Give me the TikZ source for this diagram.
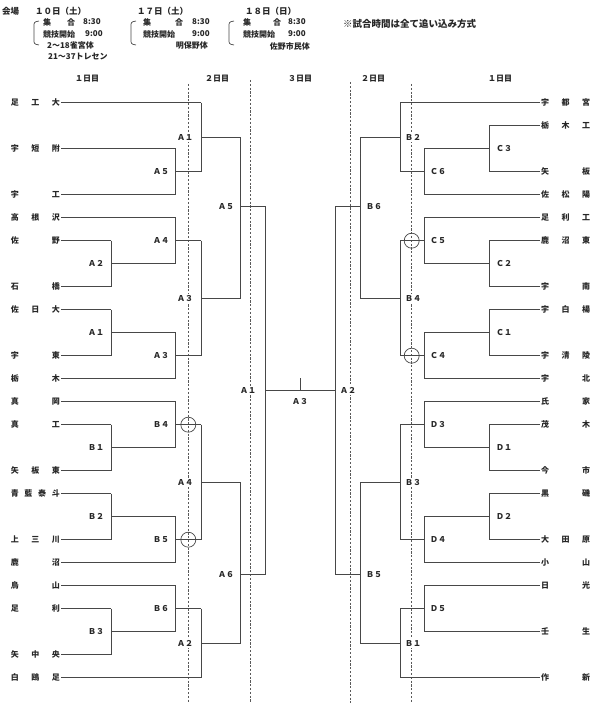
\documentclass[tikz,border=0pt]{standalone}
\usepackage{fontspec}
\setmainfont{Noto Sans CJK JP}
\newcommand\tname[1]{\makebox[49pt][s]{#1}}
\newcommand\bk[5]{\draw[ln] (#1,{rw(#2)}) -- (#1,{rw(#3)}); \draw[ln] (#1,{rw(#4)}) -- (#5,{rw(#4)});}
\begin{document}
\begin{tikzpicture}[x=1pt,y=-1pt,
  declare function={rw(\r)=102.7+23*\r;},
  ln/.style={draw=black!72,line width=0.8pt},
  dl/.style={draw=black!65,line width=0.7pt,dash pattern=on 2.2pt off 1.6pt},
  tm/.style={inner sep=0pt,font=\fontsize{8}{9}\selectfont\bfseries,text=black!85},
  lab/.style={fill=white,inner sep=1.5pt,font=\fontsize{8}{9}\selectfont\bfseries,text=black!85},
  hd/.style={inner sep=0pt,anchor=west,font=\fontsize{8}{9}\selectfont\bfseries,text=black!85},
]
\useasboundingbox (0,0) rectangle (600,703);
% day separators
\draw[dl] (188.3,84) -- (188.3,703);
\draw[dl] (250.7,80) -- (250.7,703);
\draw[dl] (350,82) -- (350,703);
\draw[dl] (411.7,84) -- (411.7,703);
% header
\node[hd,font=\fontsize{8.5}{9}\selectfont\bfseries] (h0) at (2,11) {会場};
\node[hd,font=\fontsize{8.5}{9}\selectfont\bfseries] (h1) at (35,11) {１０日（土）};
\node[hd,font=\fontsize{8.5}{9}\selectfont\bfseries] (h2) at (137,11) {１７日（土）};
\node[hd,font=\fontsize{8.5}{9}\selectfont\bfseries] (h3) at (245,11) {１８日（日）};
\foreach \a/\b/\c/\d [count=\i] in {43/67/83/85, 143/175/192/192, 243/273/288/288}{
  \node[hd] (ga\i) at (\a,22) {集};
  \node[hd] (gb\i) at (\b,22) {合};
  \node[hd] (gc\i) at (\c,22) {8:30};
  \node[hd] (gd\i) at (\a,34) {競技開始};
  \node[hd] (ge\i) at (\d,34) {9:00};
}
\foreach \x [count=\i] in {37,134,232}{
  \draw[ln,line width=0.7pt] (\x+2,21) .. controls (\x-3,22) .. (\x-3,27) -- (\x-3,39) .. controls (\x-3,44) .. (\x+2,45);
}
\node[hd] (v1) at (47,45) {2～18雀宮体};
\node[hd] (v2) at (48,57) {21～37トレセン};
\node[hd,anchor=east] (v3) at (208,46) {明保野体};
\node[hd,anchor=east] (v4) at (310,46) {佐野市民体};
\node[hd,font=\fontsize{9.5}{10}\selectfont\bfseries] (note) at (343,24) {※試合時間は全て追い込み方式};
% day headers
\foreach \x/\t [count=\i] in {87/１日目, 217/２日目, 300/３日目, 373/２日目, 500/１日目}{
  \node[tm] (dh\i) at (\x,79) {\t};
}
% left teams
\foreach \r/\n/\e [count=\i] in {0/足\hfill 工\hfill 大/201, 2/宇\hfill 短\hfill 附/175.7, 4/宇\hfill 工/175.7,
  5/高\hfill 根\hfill 沢/175.7, 6/佐\hfill 野/111, 8/石\hfill 橋/111, 9/佐\hfill 日\hfill 大/111,
  11/宇\hfill 東/111, 12/栃\hfill 木/175.7, 13/真\hfill 岡/175.7, 14/真\hfill 工/111,
  16/矢\hfill 板\hfill 東/111, 17/青\hfill 藍\hfill 泰\hfill 斗/111, 19/上\hfill 三\hfill 川/111,
  20/鹿\hfill 沼/175.7, 21/烏\hfill 山/175.7, 22/足\hfill 利/111, 24/矢\hfill 中\hfill 央/111,
  25/白\hfill 鴎\hfill 足/201}{
  \node[tm,anchor=east] (L\i) at (60,{rw(\r)}) {\tname{\n}};
  \draw[ln] (L\i.east) ++(1,0) -- (\e,{rw(\r)});
}
% right teams
\foreach \r/\n/\e [count=\i] in {0/宇\hfill 都\hfill 宮/400, 1/栃\hfill 木\hfill 工/489, 3/矢\hfill 板/489,
  4/佐\hfill 松\hfill 陽/424.3, 5/足\hfill 利\hfill 工/424.3, 6/鹿\hfill 沼\hfill 東/489, 8/宇\hfill 南/489,
  9/宇\hfill 白\hfill 楊/489, 11/宇\hfill 清\hfill 陵/489, 12/宇\hfill 北/424.3, 13/氏\hfill 家/424.3,
  14/茂\hfill 木/489, 16/今\hfill 市/489, 17/黒\hfill 磯/489, 19/大\hfill 田\hfill 原/489,
  20/小\hfill 山/424.3, 21/日\hfill 光/424.3, 23/壬\hfill 生/424.3, 25/作\hfill 新/400}{
  \node[tm,anchor=west] (R\i) at (541,{rw(\r)}) {\tname{\n}};
  \draw[ln] (R\i.west) ++(-1,0) -- (\e,{rw(\r)});
}
% left brackets
\bk{111}{6}{8}{7}{175.7}
\bk{111}{9}{11}{10}{175.7}
\bk{111}{14}{16}{15}{175.7}
\bk{111}{17}{19}{18}{175.7}
\bk{111}{22}{24}{23}{175.7}
\bk{175.7}{2}{4}{3}{201}
\bk{175.7}{5}{7}{6}{201}
\bk{175.7}{10}{12}{11}{201}
\bk{175.7}{13}{15}{14}{201}
\bk{175.7}{18}{20}{19}{201}
\bk{175.7}{21}{23}{22}{201}
\bk{201}{0}{3}{1.5}{240.7}
\bk{201}{6}{11}{8.5}{240.7}
\bk{201}{14}{19}{16.5}{240.7}
\bk{201}{22}{25}{23.5}{240.7}
\bk{240.7}{1.5}{8.5}{4.5}{265.7}
\bk{240.7}{16.5}{23.5}{20.5}{265.7}
\bk{265.7}{4.5}{20.5}{12.5}{335}
% right brackets
\bk{489}{1}{3}{2}{424.3}
\bk{489}{6}{8}{7}{424.3}
\bk{489}{9}{11}{10}{424.3}
\bk{489}{14}{16}{15}{424.3}
\bk{489}{17}{19}{18}{424.3}
\bk{424.3}{2}{4}{3}{400}
\bk{424.3}{5}{7}{6}{400}
\bk{424.3}{10}{12}{11}{400}
\bk{424.3}{13}{15}{14}{400}
\bk{424.3}{18}{20}{19}{400}
\bk{424.3}{21}{23}{22}{400}
\bk{400}{0}{3}{1.5}{360}
\bk{400}{6}{11}{8.5}{360}
\bk{400}{14}{19}{16.5}{360}
\bk{400}{22}{25}{23.5}{360}
\bk{360}{1.5}{8.5}{4.5}{335}
\bk{360}{16.5}{23.5}{20.5}{335}
\draw[ln] (335,{rw(4.5)}) -- (335,{rw(20.5)});
\draw[ln] (300,{rw(12.5)}) -- (300,378);
% circles
\foreach \x/\r [count=\i] in {188.3/14, 188.3/19, 411.7/6, 411.7/11}{
  \draw[ln,line width=0.7pt] (\x,{rw(\r)}) circle[radius=7.5pt];
}
% labels
\foreach \x/\r/\t [count=\i] in {96/7/Ａ２, 96/10/Ａ１, 96/15/Ｂ１, 96/18/Ｂ２, 96/23/Ｂ３,
  161/3/Ａ５, 161/6/Ａ４, 161/11/Ａ３, 161/14/Ｂ４, 161/19/Ｂ５, 161/22/Ｂ６,
  185/1.5/Ａ１, 185/8.5/Ａ３, 185/16.5/Ａ４, 185/23.5/Ａ２,
  226/4.5/Ａ５, 226/20.5/Ａ６, 248/12.5/Ａ１,
  504/2/Ｃ３, 504/7/Ｃ２, 504/10/Ｃ１, 504/15/Ｄ１, 504/18/Ｄ２,
  438/3/Ｃ６, 438/6/Ｃ５, 438/11/Ｃ４, 438/14/Ｄ３, 438/19/Ｄ４, 438/22/Ｄ５,
  413/1.5/Ｂ２, 413/8.5/Ｂ４, 413/16.5/Ｂ３, 413/23.5/Ｂ１,
  374/4.5/Ｂ６, 374/20.5/Ｂ５, 348/12.5/Ａ２}{
  \node[lab] (m\i) at (\x,{rw(\r)}) {\t};
}
\node[lab] (final) at (300,402) {Ａ３};
\end{tikzpicture}
\end{document}
